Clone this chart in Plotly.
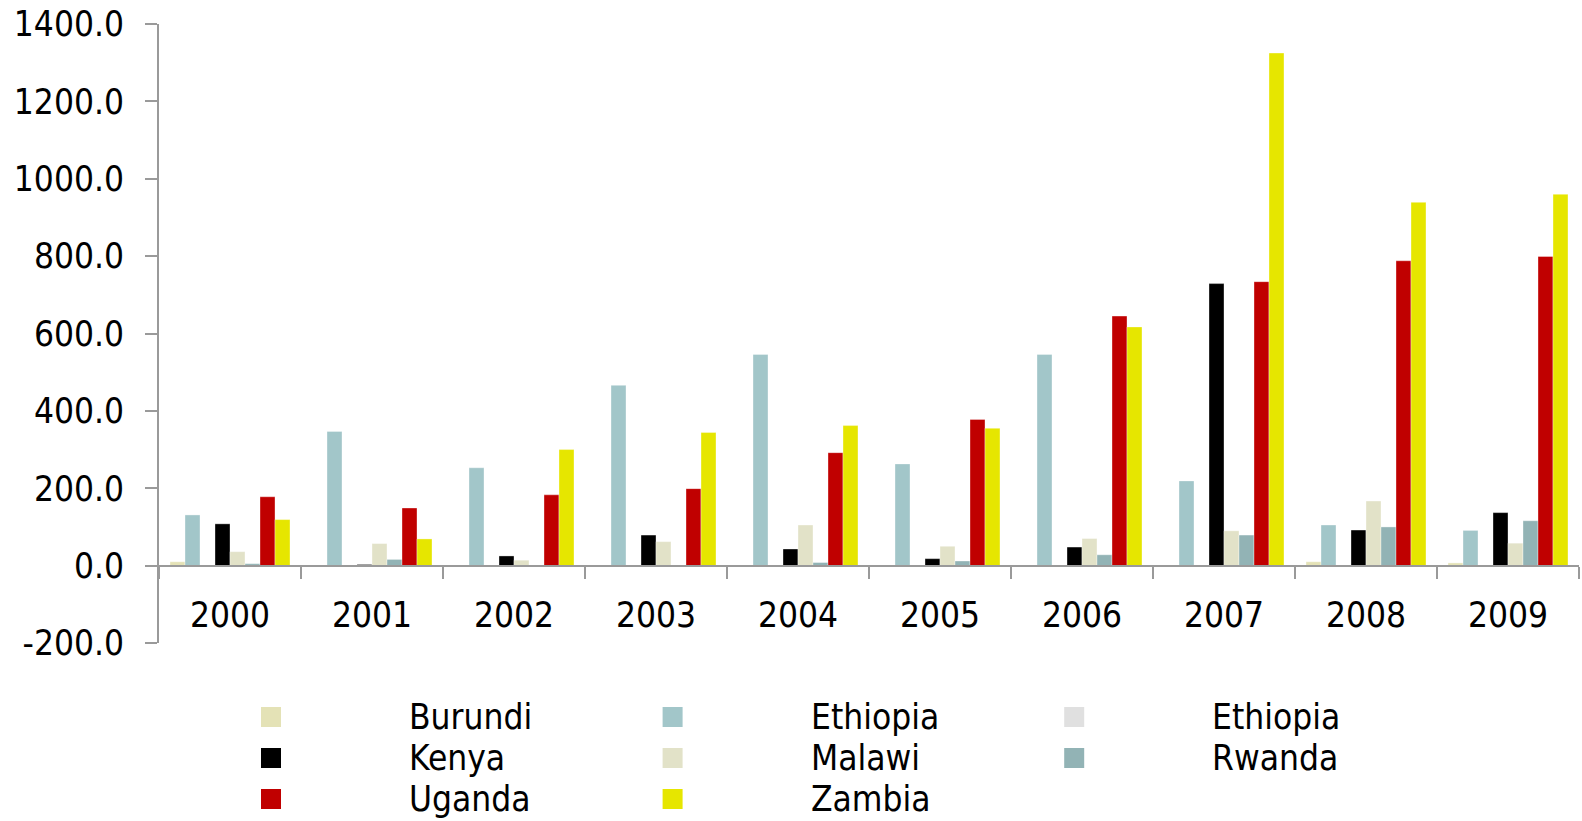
import plotly.graph_objects as go

years = ["2000", "2001", "2002", "2003", "2004", "2005", "2006", "2007", "2008", "2009"]

series_names = ["Burundi", "Ethiopia", "Ethiopia", "Kenya", "Malawi", "Rwanda", "Uganda", "Zambia"]
series_colors = ["#E4E2B6", "#A2C6C9", "#E0E0E0", "#000000", "#E2E2C8", "#92B3B5", "#C00000", "#E6E600"]

burundi = [10, None, None, None, None, None, None, None, 10, 7]
ethiopia = [131, 347, 253, 466, 546, 263, 546, 219, 105, 91]
ethiopia_2 = [0, 0, 0, 0, 0, 0, 0, 0, 0, 0]
kenya = [108, 3, 25, 79, 43, 18, 48, 729, 92, 137]
malawi = [36, 57, 14, 62, 105, 50, 70, 90, 167, 58]
rwanda = [5, 16, None, None, 8, 12, 28, 79, 100, 116]
uganda = [178, 149, 183, 199, 292, 378, 645, 734, 788, 799]
zambia = [119, 69, 300, 344, 362, 355, 617, 1325, 939, 960]

series_values = [burundi, ethiopia, ethiopia_2, kenya, malawi, rwanda, uganda, zambia]

y_ticks = [-200, 0, 200, 400, 600, 800, 1000, 1200, 1400]
y_tick_labels = [f"{v:.1f}" for v in y_ticks]

FONT = "DejaVu Sans Condensed, DejaVu Sans, sans-serif"
AXIS_COLOR = "#9A9A9A"

fig = go.Figure()
for name, color, vals in zip(series_names, series_colors, series_values):
    fig.add_trace(go.Bar(
        x=years, y=vals, name=name,
        marker=dict(color=color, line=dict(width=1, color="rgba(255,255,255,0.35)")),
        showlegend=False,
    ))

W, H = 1582, 821
ML, MR, MT, MB = 159, 3, 24, 178
plot_w = W - ML - MR
plot_h = H - MT - MB

# manual legend (3 columns, row-major)
col_step = 401.6
row_y = [717, 758, 799]
marker_x0 = 261
text_dx = 146
shapes = []
annotations = []
for i, (name, color) in enumerate(zip(series_names, series_colors)):
    r, c = divmod(i, 3)
    mx = marker_x0 + c * col_step
    my = row_y[r]
    xa = (mx - ML) / plot_w
    ya = (H - MB - my) / plot_h
    shapes.append(dict(
        type="rect", xref="paper", yref="paper",
        xsizemode="pixel", ysizemode="pixel",
        xanchor=xa, yanchor=ya,
        x0=0, x1=20, y0=-10, y1=10,
        fillcolor=color, line=dict(width=0),
    ))
    annotations.append(dict(
        xref="paper", yref="paper",
        x=(mx + text_dx - ML) / plot_w, y=ya,
        xanchor="left", yanchor="middle",
        text=name, showarrow=False,
        font=dict(family=FONT, size=35, color="#000000"),
    ))

fig.update_layout(
    width=W, height=H,
    margin=dict(l=ML, r=MR, t=MT, b=MB, pad=0, autoexpand=False),
    paper_bgcolor="white", plot_bgcolor="white",
    barmode="group", bargap=0.155, bargroupgap=0,
    font=dict(family=FONT, size=35, color="#000000"),
    shapes=shapes, annotations=annotations,
    xaxis=dict(
        type="category", range=[-0.5, 9.5], automargin=False,
        anchor="free", position=200 / 1600,
        showline=True, linecolor=AXIS_COLOR, linewidth=2,
        ticks="outside", tickson="boundaries", ticklen=12, tickwidth=2, tickcolor=AXIS_COLOR,
        showgrid=False, zeroline=False,
        tickfont=dict(family=FONT, size=35, color="#000000"),
        ticklabelstandoff=18, ticklabeloverflow="allow",
    ),
    yaxis=dict(
        range=[-200, 1400], tickvals=y_ticks, ticktext=y_tick_labels, automargin=False,
        showline=True, linecolor=AXIS_COLOR, linewidth=2,
        ticks="outside", ticklen=12, tickwidth=2, tickcolor=AXIS_COLOR,
        showgrid=False, zeroline=False,
        tickfont=dict(family=FONT, size=35, color="#000000"),
        ticklabelstandoff=14, ticklabeloverflow="allow",
    ),
)

fig.write_html(
    "out.html",
    config={"displayModeBar": False},
    post_script="document.body.style.margin = '0';",
)
